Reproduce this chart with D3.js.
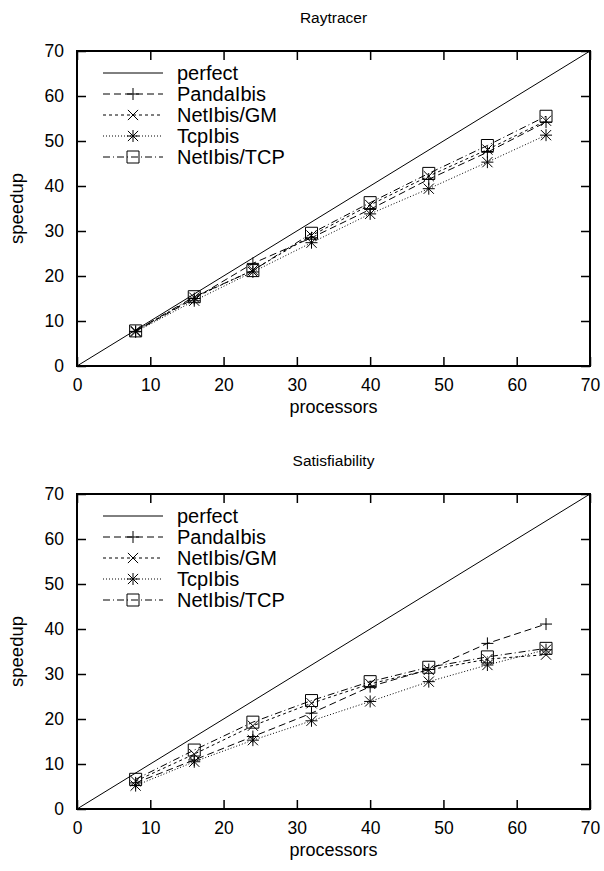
<!DOCTYPE html>
<html>
<head>
<meta charset="utf-8">
<script src="https://cdn.jsdelivr.net/npm/d3@7"></script>
<style>
  body { margin: 0; background: #fff; }
  text { font-family: "Liberation Sans", Arial, sans-serif; fill: #000; }
</style>
</head>
<body>
<div id="chart"></div>
<script>
var processors = [8, 16, 24, 32, 40, 48, 56, 64];
var perfect = [0, 70];
var seriesNames = ['PandaIbis', 'NetIbis/GM', 'TcpIbis', 'NetIbis/TCP'];
var ticks = [0, 10, 20, 30, 40, 50, 60, 70];

// Raytracer
var rayPanda = [7.7, 15.0, 22.8, 28.5, 34.8, 41.5, 47.5, 54.2];
var rayGM    = [7.8, 15.2, 21.3, 29.0, 35.8, 42.2, 48.1, 54.5];
var rayTcp   = [7.6, 14.5, 20.9, 27.4, 33.8, 39.4, 45.3, 51.3];
var rayTCP   = [7.8, 15.4, 21.2, 29.5, 36.3, 42.8, 49.0, 55.5];

// Satisfiability
var satPanda = [5.8, 10.9, 16.1, 21.3, 27.2, 31.0, 36.8, 41.1];
var satGM    = [6.2, 12.2, 18.5, 23.5, 27.8, 30.9, 33.3, 34.3];
var satTcp   = [5.2, 10.5, 15.3, 19.6, 23.9, 28.3, 32.0, 35.4];
var satTCP   = [6.6, 13.1, 19.3, 24.1, 28.3, 31.5, 33.8, 35.7];

var W = 604, H = 871;
var svg = d3.select('#chart').append('svg')
  .attr('width', W)
  .attr('height', H);

var dashes = ['7,4', '3,3', '1,2', '7,3,1,3'];
var markers = ['plus', 'cross', 'star', 'box'];

function marker(g, type, x, y) {
  var s = 6;
  var p = g.append('path')
    .attr('fill', 'none')
    .attr('stroke', '#000')
    .attr('stroke-width', 1);
  var d = '';
  if (type == 'plus' || type == 'star') {
    d += 'M' + (x - s) + ',' + y + 'H' + (x + s) + 'M' + x + ',' + (y - s) + 'V' + (y + s);
  }
  if (type == 'cross' || type == 'star') {
    var c = s * 0.85;
    d += 'M' + (x - c) + ',' + (y - c) + 'L' + (x + c) + ',' + (y + c) +
         'M' + (x - c) + ',' + (y + c) + 'L' + (x + c) + ',' + (y - c);
  }
  if (type == 'box') {
    d += 'M' + (x - s) + ',' + (y - s) + 'h' + (2 * s) + 'v' + (2 * s) + 'h' + (-2 * s) + 'Z';
  }
  p.attr('d', d);
}

function panel(top, title, values) {
  var left = 77, right = 590, bottom = top + 315;
  var x = d3.scaleLinear().domain([0, 70]).range([left, right]);
  var y = d3.scaleLinear().domain([0, 70]).range([bottom, top]);
  var g = svg.append('g');

  svg.append('text')
    .attr('x', (left + right) / 2)
    .attr('y', top - 28)
    .attr('text-anchor', 'middle')
    .attr('font-size', 15.5)
    .text(title);

  // axes with inward ticks, mirrored on top and right
  var tl = 9;
  g.append('g').attr('transform', 'translate(0,' + bottom + ')')
    .call(d3.axisBottom(x).tickValues(ticks).tickSizeInner(-tl).tickSizeOuter(0).tickPadding(13));
  g.append('g').attr('transform', 'translate(0,' + top + ')')
    .call(d3.axisTop(x).tickValues(ticks).tickSizeInner(-tl).tickSizeOuter(0).tickFormat(''));
  g.append('g').attr('transform', 'translate(' + left + ',0)')
    .call(d3.axisLeft(y).tickValues(ticks).tickSizeInner(-tl).tickSizeOuter(0).tickPadding(13));
  g.append('g').attr('transform', 'translate(' + right + ',0)')
    .call(d3.axisRight(y).tickValues(ticks).tickSizeInner(-tl).tickSizeOuter(0).tickFormat(''));
  g.selectAll('.domain').remove();
  g.selectAll('.tick line').attr('stroke', '#000').attr('stroke-width', 1.5);
  g.selectAll('.tick text')
    .attr('font-family', '"Liberation Sans", Arial, sans-serif')
    .attr('font-size', 17.5)
    .attr('fill', '#000');

  g.append('rect')
    .attr('x', left).attr('y', top)
    .attr('width', right - left).attr('height', bottom - top)
    .attr('fill', 'none').attr('stroke', '#000').attr('stroke-width', 2);

  svg.append('text')
    .attr('transform', 'translate(23,' + (top + bottom) / 2 + ') rotate(-90)')
    .attr('text-anchor', 'middle')
    .attr('font-size', 18.5)
    .text('speedup');
  svg.append('text')
    .attr('x', (left + right) / 2)
    .attr('y', bottom + 47)
    .attr('text-anchor', 'middle')
    .attr('font-size', 18)
    .text('processors');

  var line = d3.line()
    .x(function(d) { return x(d[0]); })
    .y(function(d) { return y(d[1]); });

  g.append('path')
    .attr('d', line(perfect.map(function(v) { return [v, v]; })))
    .attr('fill', 'none').attr('stroke', '#000').attr('stroke-width', 1);

  values.forEach(function(vals, i) {
    var pts = processors.map(function(p, j) { return [p, vals[j]]; });
    g.append('path')
      .attr('d', line(pts))
      .attr('fill', 'none').attr('stroke', '#000').attr('stroke-width', 1)
      .attr('stroke-dasharray', dashes[i]);
    pts.forEach(function(d) { marker(g, markers[i], x(d[0]), y(d[1])); });
  });

  // key
  var kx0 = 103, kx1 = 163, ky = top + 22, row = 21;
  var names = ['perfect'].concat(seriesNames);
  names.forEach(function(n, i) {
    var yy = ky + i * row;
    g.append('line')
      .attr('x1', kx0).attr('x2', kx1).attr('y1', yy).attr('y2', yy)
      .attr('stroke', '#000').attr('stroke-width', 1)
      .attr('stroke-dasharray', i == 0 ? null : dashes[i - 1]);
    if (i > 0) marker(g, markers[i - 1], (kx0 + kx1) / 2, yy);
    g.append('text')
      .attr('x', 177).attr('y', yy + 7)
      .attr('font-size', 20)
      .text(n);
  });
}

panel(51, 'Raytracer', [rayPanda, rayGM, rayTcp, rayTCP]);
panel(494, 'Satisfiability', [satPanda, satGM, satTcp, satTCP]);
</script>
</body>
</html>
